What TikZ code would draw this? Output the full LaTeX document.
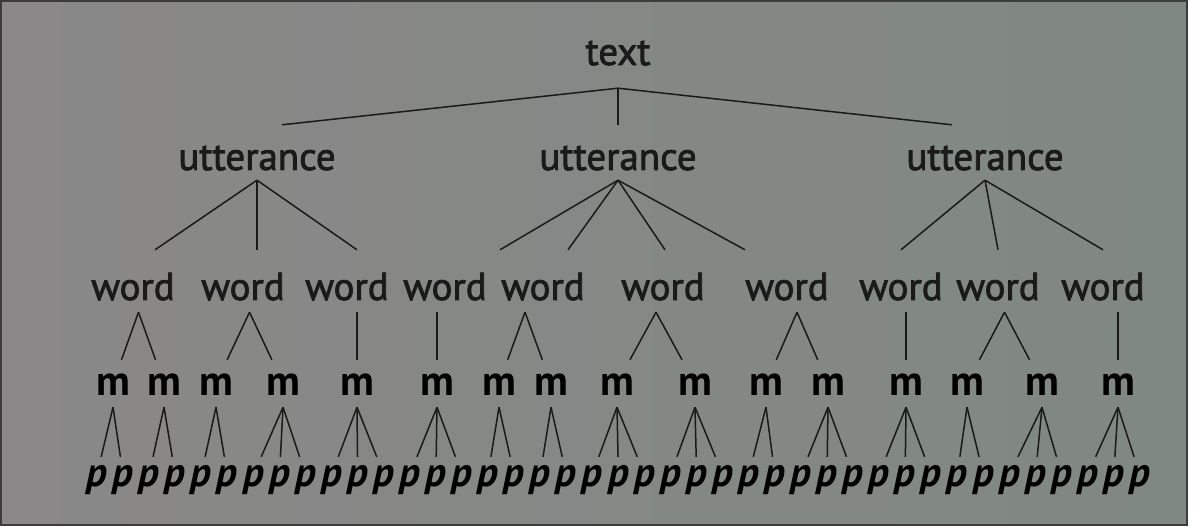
\documentclass[tikz,border=0pt]{standalone}
\usepackage{fontspec}
\setmainfont{PT Sans}
\newfontfamily\lblfont{PT Sans}[FakeBold=2]
\usetikzlibrary{calc}
\definecolor{ink}{RGB}{26,26,26}
\definecolor{bgl}{RGB}{138,136,136}
\definecolor{bgr}{RGB}{128,136,131}
\definecolor{frame}{RGB}{60,60,60}
\begin{document}
\begin{tikzpicture}[x=1pt,y=-1pt,
  lbl/.style={inner sep=0pt, anchor=base, text=ink, font=\lblfont\fontsize{39}{42}\selectfont},
  toplbl/.style={lbl, text height=27pt, text depth=23pt},
  utt/.style={lbl, text height=45pt, text depth=10pt},
  wrd/.style={lbl, text height=50pt, text depth=12pt},
  mrph/.style={lbl, text=black, font=\fontsize{42}{44}\selectfont\bfseries, text height=35pt, text depth=12pt},
  phon/.style={lbl, text=black, font=\fontsize{41}{44}\selectfont\bfseries\itshape, text height=29pt, text depth=6pt},
  edge/.style={draw=ink, line width=1.5pt}
]
% background
\fill[white] (0,0) rectangle (1194,529);
\shade[left color=bgl, right color=bgr, draw=frame, line width=1.5pt] (1,1) rectangle (1187,525);
\useasboundingbox (0,0) rectangle (1194,529);

% top
\node[toplbl] (t) at (618,65) {text};

% utterances
\node[utt] (u1) at (257,170) {utterance};
\node[utt] (u2) at (618,170) {utterance};
\node[utt] (u3) at (985,170) {utterance};

% words
\foreach \i/\x in {1/133,2/243,3/347,4/445,5/543,6/663,7/787,8/901,9/998,10/1103}
  \node[wrd] (w\i) at (\x,300) {word};

% morphemes
\foreach \i/\x in {1/113,2/164,3/216,4/283,5/357,6/437,7/499,8/551,9/617,10/695,11/766,12/828,13/906,14/967,15/1042,16/1118}
  \node[mrph] (m\i) at (\x,395) {m};

% phonemes
\foreach \i in {0,...,40}
  \node[phon] (p\i) at ({97+26.07*\i},486) {p};

% text -> utterances
\draw[edge] (t.south) -- ([xshift=25pt]u1.north);
\draw[edge] (t.south) -- (u2.north);
\draw[edge] (t.south) -- ([xshift=-33pt]u3.north);

% utterances -> words
\draw[edge] (u1.south) -- ([xshift=22pt]w1.north);
\draw[edge] (u1.south) -- ([xshift=14pt]w2.north);
\draw[edge] (u1.south) -- ([xshift=10pt]w3.north);
\draw[edge] (u2.south) -- ([xshift=55pt]w4.north);
\draw[edge] (u2.south) -- ([xshift=25pt]w5.north);
\draw[edge] (u2.south) -- ([xshift=2pt]w6.north);
\draw[edge] (u2.south) -- ([xshift=-42pt]w7.north);
\draw[edge] (u3.south) -- (w8.north);
\draw[edge] (u3.south) -- (w9.north);
\draw[edge] (u3.south) -- (w10.north);

% words -> morphemes
\foreach \w/\a/\b in {1/1/2,2/3/4,5/7/8,6/9/10,7/11/12,9/14/15} {
  \coordinate (c\w) at ($(m\a)!.5!(m\b)$);
  \draw[edge] (w\w.south -| c\w) -- (m\a);
  \draw[edge] (w\w.south -| c\w) -- (m\b);
}
\foreach \w/\a in {3/5,4/6,8/13,10/16}
  \draw[edge] (w\w.south -| m\a) -- (m\a);

% morphemes -> phonemes
\foreach \m/\ps in {1/{0,1},2/{2,3},3/{4,5},4/{6,7,8},5/{9,10,11},6/{12,13,14},7/{15,16},8/{17,18},9/{19,20,21},10/{22,23,24},11/{25,26},12/{27,28,29},13/{30,31,32},14/{33,34},15/{35,36,37},16/{38,39,40}}
  \foreach \p in \ps
    \draw[edge] (m\m.south) -- (p\p);
\end{tikzpicture}
\end{document}
